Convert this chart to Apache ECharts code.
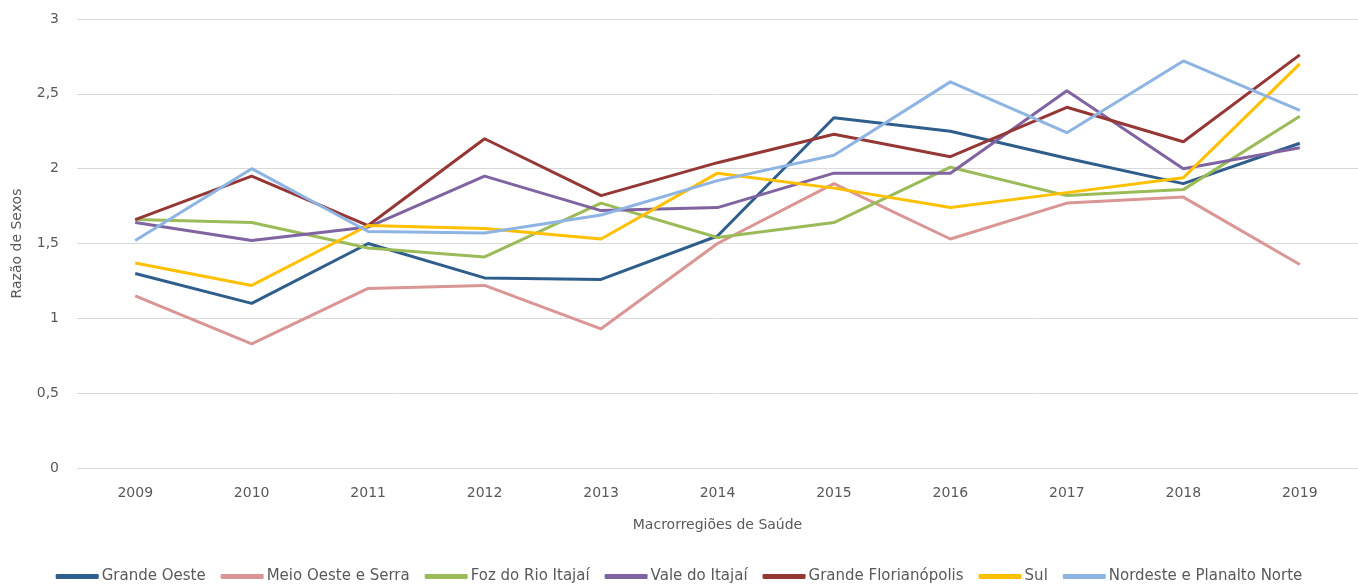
<!DOCTYPE html>
<html>
<head>
<meta charset="utf-8">
<script src="https://cdn.jsdelivr.net/npm/echarts@6/dist/echarts.min.js"></script>
<style>
  html, body { margin: 0; padding: 0; background: #fff; }
  #main { width: 1358px; height: 585px; }
</style>
</head>
<body>
<div id="main"></div>
<script>
var anos = ['2009', '2010', '2011', '2012', '2013', '2014', '2015', '2016', '2017', '2018', '2019'];

var grandeOeste     = [1.30, 1.10, 1.50, 1.27, 1.26, 1.55, 2.34, 2.25, 2.07, 1.90, 2.17];
var meioOesteSerra  = [1.15, 0.83, 1.20, 1.22, 0.93, 1.50, 1.90, 1.53, 1.77, 1.81, 1.36];
var fozRioItajai    = [1.66, 1.64, 1.47, 1.41, 1.77, 1.54, 1.64, 2.01, 1.82, 1.86, 2.35];
var valeItajai      = [1.64, 1.52, 1.61, 1.95, 1.72, 1.74, 1.97, 1.97, 2.52, 2.00, 2.14];
var grandeFloripa   = [1.66, 1.95, 1.62, 2.20, 1.82, 2.04, 2.23, 2.08, 2.41, 2.18, 2.76];
var sul             = [1.37, 1.22, 1.62, 1.60, 1.53, 1.97, 1.87, 1.74, 1.84, 1.94, 2.70];
var nordestePlanalto= [1.52, 2.00, 1.58, 1.57, 1.69, 1.92, 2.09, 2.58, 2.24, 2.72, 2.39];

var nomes = ['Grande Oeste', 'Meio Oeste e Serra', 'Foz do Rio Itajaí', 'Vale do Itajaí',
             'Grande Florianópolis', 'Sul', 'Nordeste e Planalto Norte'];
var cores = ['#2F5D8C', '#D99694', '#9BBB59', '#8064A2', '#953735', '#FFC000', '#8EB4E3'];
var dados = [grandeOeste, meioOesteSerra, fozRioItajai, valeItajai, grandeFloripa, sul, nordestePlanalto];

var fonte = 'DejaVu Sans';
var cinza = '#595959';

var series = [];
for (var i = 0; i < nomes.length; i++) {
	series.push({
		name: nomes[i],
		type: 'line',
		data: dados[i],
		symbol: 'none',
		lineStyle: { width: 3, color: cores[i] },
		itemStyle: { color: cores[i] }
	});
}

var myChart = echarts.init(document.getElementById('main'));
var option = {
	animation: false,
	textStyle: { fontFamily: fonte },
	grid: { left: 77, top: 19, width: 1290, height: 449 },
	legend: {
		bottom: -4,
		left: 'center',
		itemWidth: 43,
		itemHeight: 5,
		itemGap: 15,
		icon: 'roundRect',
		textStyle: { fontFamily: fonte, fontSize: 15, color: cinza, padding: [0, 0, 0, -2] },
		data: nomes
	},
	xAxis: {
		type: 'category',
		data: anos,
		boundaryGap: true,
		name: 'Macrorregiões de Saúde',
		nameLocation: 'middle',
		nameGap: 50,
		nameTextStyle: { fontFamily: fonte, fontSize: 14, color: cinza },
		axisLine: { show: false },
		axisTick: { show: false },
		axisLabel: { fontFamily: fonte, fontSize: 14, color: cinza, margin: 18 }
	},
	yAxis: {
		type: 'value',
		min: 0,
		max: 3,
		interval: 0.5,
		name: 'Razão de Sexos',
		nameLocation: 'middle',
		nameGap: 53,
		nameTextStyle: { fontFamily: fonte, fontSize: 14, color: cinza },
		axisLine: { show: false },
		axisTick: { show: false },
		axisLabel: {
			fontFamily: fonte, fontSize: 14, color: cinza, margin: 18,
			formatter: function (v) { return String(v).replace('.', ','); }
		},
		splitLine: { lineStyle: { color: '#D9D9D9', width: 1 } }
	},
	series: series
};
myChart.setOption(option);
</script>
</body>
</html>
